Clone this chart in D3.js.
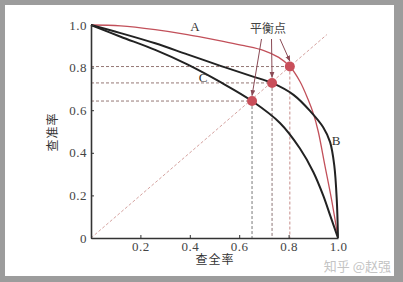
<!DOCTYPE html>
<html>
<head>
<meta charset="utf-8">
<style>
  html, body { margin: 0; padding: 0; background: #9c9c9c; }
  svg { display: block; }
</style>
</head>
<body>
<svg width="403" height="282"></svg>
<script src="https://d3js.org/d3.v7.min.js"></script>
<script>
// P-R curves (recall on x, precision on y)
var recallA    = [0, 0.12, 0.26, 0.39, 0.53, 0.62, 0.70, 0.76, 0.805, 0.846, 0.879, 0.90, 0.92, 0.947, 0.974, 1.0];
var precisionA = [1.0, 0.996, 0.978, 0.955, 0.924, 0.903, 0.88, 0.848, 0.805, 0.735, 0.65, 0.585, 0.50, 0.34, 0.18, 0];

var recallB    = [0, 0.12, 0.26, 0.39, 0.53, 0.65, 0.733, 0.82, 0.892, 0.94, 0.968, 0.985, 0.995, 1.0];
var precisionB = [1.0, 0.962, 0.914, 0.862, 0.806, 0.76, 0.728, 0.672, 0.59, 0.52, 0.45, 0.34, 0.18, 0];

var recallC    = [0, 0.12, 0.26, 0.39, 0.53, 0.652, 0.765, 0.846, 0.90, 0.94, 0.97, 1.0];
var precisionC = [1.0, 0.945, 0.883, 0.815, 0.728, 0.643, 0.54, 0.42, 0.31, 0.20, 0.10, 0];

// break-even points
var bepRecall    = [0.652, 0.733, 0.805];
var bepPrecision = [0.643, 0.728, 0.805];
var diagEnd = 0.955;

var xTicks = [0.2, 0.4, 0.6, 0.8, 1.0];
var yTicks = [0, 0.2, 0.4, 0.6, 0.8, 1.0];

var svg = d3.select("svg");
var serif = "'Liberation Serif', 'DejaVu Serif', serif";
var cjk = "'Noto Sans CJK SC', sans-serif";

svg.append("rect").attr("x", 5).attr("y", 5).attr("width", 389).attr("height", 271).attr("fill", "#fff");

var x = d3.scaleLinear().domain([0, 1]).range([91, 338]);
var y = d3.scaleLinear().domain([0, 1]).range([238, 25]);

function pts(rs, ps) { return rs.map(function(r, i) { return [r, ps[i]]; }); }
var line = d3.line().x(function(d) { return x(d[0]); }).y(function(d) { return y(d[1]); })
  .curve(d3.curveCatmullRom.alpha(0.5));

// dashed guides
var guides = svg.append("g").attr("fill", "none").attr("stroke-width", 0.8).attr("stroke-dasharray", "3,2");
guides.append("line")
  .attr("x1", x(0)).attr("y1", y(0)).attr("x2", x(diagEnd)).attr("y2", y(diagEnd))
  .attr("stroke", "#c98a86");
var hCol = ["#7a5650", "#7a5650", "#7a5650"];
var vCol = ["#555", "#6e5050", "#b9706c"];
bepRecall.forEach(function(r, i) {
  guides.append("line").attr("x1", x(0)).attr("x2", x(r)).attr("y1", y(bepPrecision[i])).attr("y2", y(bepPrecision[i])).attr("stroke", hCol[i]);
  guides.append("line").attr("x1", x(r)).attr("x2", x(r)).attr("y1", y(bepPrecision[i])).attr("y2", y(0)).attr("stroke", vCol[i]);
});

// curves
svg.append("path").datum(pts(recallA, precisionA)).attr("d", line)
  .attr("fill", "none").attr("stroke", "#c2505a").attr("stroke-width", 1.3);
svg.append("path").datum(pts(recallB, precisionB)).attr("d", line)
  .attr("fill", "none").attr("stroke", "#222").attr("stroke-width", 2);
svg.append("path").datum(pts(recallC, precisionC)).attr("d", line)
  .attr("fill", "none").attr("stroke", "#222").attr("stroke-width", 2);

// axes
var xAxis = d3.axisBottom(x).tickValues(xTicks).tickSizeInner(-3).tickSizeOuter(0).tickPadding(4).tickFormat(d3.format(".1f"));
var yAxis = d3.axisLeft(y).tickValues(yTicks).tickSizeInner(-3).tickSizeOuter(0).tickPadding(4)
  .tickFormat(function(d) { return d === 0 ? "0" : d3.format(".1f")(d); });

var gx = svg.append("g").attr("transform", "translate(0," + y(0) + ")").call(xAxis);
var gy = svg.append("g").attr("transform", "translate(" + x(0) + ",0)").call(yAxis);
[gx, gy].forEach(function(g) {
  g.select(".domain").attr("stroke", "#333").attr("stroke-width", 1.6);
  g.selectAll(".tick line").attr("stroke", "#333");
  g.selectAll(".tick text").attr("fill", "#444").style("font-family", serif).style("font-size", "13px").style("letter-spacing", "0.5px");
});

// break-even dots
svg.append("g").selectAll("circle").data(bepRecall).join("circle")
  .attr("cx", function(d) { return x(d); })
  .attr("cy", function(d, i) { return y(bepPrecision[i]); })
  .attr("r", 5).attr("fill", "#c94f5a");

// arrows from label to dots
svg.append("defs").append("marker").attr("id", "ah")
  .attr("viewBox", "0 0 10 10").attr("refX", 9).attr("refY", 5)
  .attr("markerWidth", 6).attr("markerHeight", 6).attr("orient", "auto")
  .append("path").attr("d", "M0,1 L10,5 L0,9 Z").attr("fill", "#8a4a55");
var arrowStart = [261.5, 271.5, 280];
bepRecall.forEach(function(r, i) {
  var tx = x(r), ty = y(bepPrecision[i]) - 5.5;
  svg.append("line").attr("x1", arrowStart[i]).attr("y1", 39).attr("x2", tx).attr("y2", ty)
    .attr("stroke", "#8a4a55").attr("stroke-width", 1).attr("marker-end", "url(#ah)");
});

// labels
svg.append("text").attr("x", 268).attr("y", 33).attr("text-anchor", "middle")
  .style("font-family", cjk).style("font-size", "12px").attr("fill", "#444").text("平衡点");
svg.append("text").attr("x", 195).attr("y", 31).attr("text-anchor", "middle")
  .style("font-family", serif).style("font-size", "13px").attr("fill", "#333").text("A");
svg.append("text").attr("x", 336).attr("y", 145).attr("text-anchor", "middle")
  .style("font-family", serif).style("font-size", "13px").attr("fill", "#333").text("B");
svg.append("text").attr("x", 203).attr("y", 82).attr("text-anchor", "middle")
  .style("font-family", serif).style("font-size", "13px").attr("fill", "#333").text("C");

svg.append("text").attr("x", 215).attr("y", 264).attr("text-anchor", "middle")
  .style("font-family", cjk).style("font-size", "12px").style("letter-spacing", "1px").attr("fill", "#333").text("查全率");
svg.append("text").attr("transform", "translate(57,132) rotate(-90)").attr("text-anchor", "middle")
  .style("font-family", cjk).style("font-size", "12px").style("letter-spacing", "1px").attr("fill", "#333").text("查准率");

svg.append("text").attr("x", 391).attr("y", 271).attr("text-anchor", "end")
  .style("font-family", cjk).style("font-size", "13px").attr("fill", "#c4c4c4").text("知乎 @赵强");
</script>
</body>
</html>
